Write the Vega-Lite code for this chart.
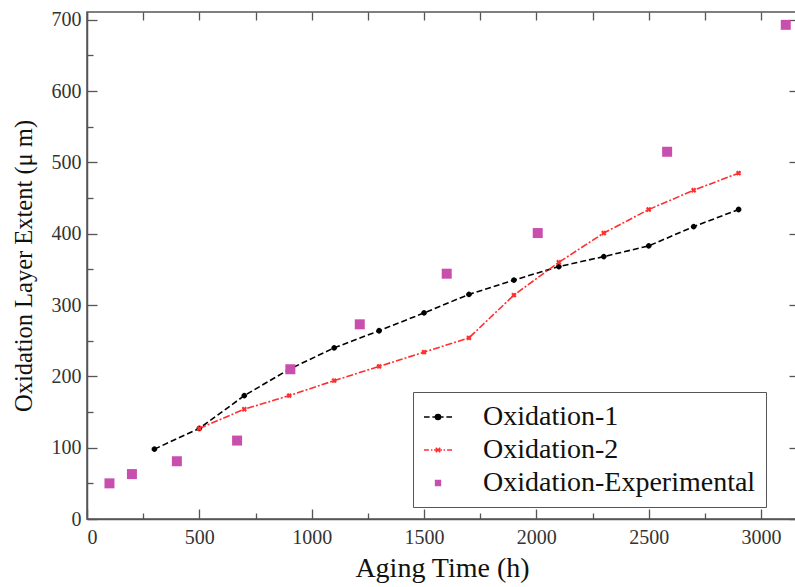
{
  "$schema": "https://vega.github.io/schema/vega-lite/v6.json",
  "autosize": {"type": "none"},
  "padding": {"left": 87, "top": 12, "right": 0, "bottom": 68},
  "width": 710,
  "height": 507,
  "background": "white",
  "config": {
    "font": "Liberation Serif",
    "view": {"stroke": "#555", "strokeWidth": 1.5},
    "axis": {
      "labelFont": "Liberation Serif",
      "titleFont": "Liberation Serif",
      "labelFontSize": 20,
      "titleFontSize": 28,
      "titleFontWeight": "normal",
      "labelColor": "#333",
      "titleColor": "#111",
      "domainColor": "#555",
      "domainWidth": 1.5,
      "tickColor": "#555",
      "tickWidth": 1.3,
      "grid": false
    },
    "legend": {"labelFont": "Liberation Serif"}
  },
  "data": {
    "values": [
      {"series": "Oxidation-1", "t": 300, "v": 98},
      {"series": "Oxidation-1", "t": 500, "v": 127},
      {"series": "Oxidation-1", "t": 700, "v": 173},
      {"series": "Oxidation-1", "t": 900, "v": 210},
      {"series": "Oxidation-1", "t": 1100, "v": 240},
      {"series": "Oxidation-1", "t": 1300, "v": 264},
      {"series": "Oxidation-1", "t": 1500, "v": 289},
      {"series": "Oxidation-1", "t": 1700, "v": 315},
      {"series": "Oxidation-1", "t": 1900, "v": 335},
      {"series": "Oxidation-1", "t": 2100, "v": 354},
      {"series": "Oxidation-1", "t": 2300, "v": 368},
      {"series": "Oxidation-1", "t": 2500, "v": 383},
      {"series": "Oxidation-1", "t": 2700, "v": 410},
      {"series": "Oxidation-1", "t": 2900, "v": 434},
      {"series": "Oxidation-2", "t": 500, "v": 127},
      {"series": "Oxidation-2", "t": 700, "v": 154},
      {"series": "Oxidation-2", "t": 900, "v": 173},
      {"series": "Oxidation-2", "t": 1100, "v": 194},
      {"series": "Oxidation-2", "t": 1300, "v": 214},
      {"series": "Oxidation-2", "t": 1500, "v": 234},
      {"series": "Oxidation-2", "t": 1700, "v": 254},
      {"series": "Oxidation-2", "t": 1900, "v": 314},
      {"series": "Oxidation-2", "t": 2100, "v": 360},
      {"series": "Oxidation-2", "t": 2300, "v": 401},
      {"series": "Oxidation-2", "t": 2500, "v": 434},
      {"series": "Oxidation-2", "t": 2700, "v": 461},
      {"series": "Oxidation-2", "t": 2900, "v": 485},
      {"series": "Oxidation-Experimental", "t": 100, "v": 50},
      {"series": "Oxidation-Experimental", "t": 200, "v": 63},
      {"series": "Oxidation-Experimental", "t": 400, "v": 81},
      {"series": "Oxidation-Experimental", "t": 668, "v": 110},
      {"series": "Oxidation-Experimental", "t": 905, "v": 210},
      {"series": "Oxidation-Experimental", "t": 1214, "v": 273},
      {"series": "Oxidation-Experimental", "t": 1601, "v": 344},
      {"series": "Oxidation-Experimental", "t": 2006, "v": 401},
      {"series": "Oxidation-Experimental", "t": 2582, "v": 515},
      {"series": "Oxidation-Experimental", "t": 3110, "v": 693}
    ]
  },
  "layer": [
    {
      "transform": [{"filter": "datum.series !== 'Oxidation-Experimental'"}],
      "mark": {"type": "line", "strokeWidth": 1.6},
      "encoding": {
        "x": {
          "field": "t", "type": "quantitative",
          "scale": {"domain": [0, 3160], "nice": false, "zero": false},
          "axis": {
            "orient": "bottom",
            "title": "Aging Time (h)",
            "values": [0, 250, 500, 750, 1000, 1250, 1500, 1750, 2000, 2250, 2500, 2750, 3000],
            "labelExpr": "datum.value % 500 === 0 ? datum.label : ''",
            "format": "d",
            "tickSize": {"condition": {"test": "datum.value % 500 === 0", "value": -10}, "value": -6},
            "labelPadding": 18,
            "titlePadding": 7
          }
        },
        "y": {
          "field": "v", "type": "quantitative",
          "scale": {"domain": [0, 711], "nice": false},
          "axis": {
            "orient": "left",
            "title": "Oxidation Layer Extent (μ m)",
            "titleFontSize": 24.5,
            "values": [0, 50, 100, 150, 200, 250, 300, 350, 400, 450, 500, 550, 600, 650, 700],
            "labelExpr": "datum.value % 100 === 0 ? datum.label : ''",
            "format": "d",
            "tickSize": {"condition": {"test": "datum.value % 100 === 0", "value": -10}, "value": -6},
            "labelPadding": 16,
            "titlePadding": 15
          }
        },
        "color": {
          "field": "series", "type": "nominal",
          "scale": {"domain": ["Oxidation-1", "Oxidation-2", "Oxidation-Experimental"], "range": ["#000000", "#ff2f2f", "#c84fae"]},
          "legend": {
            "title": null,
            "orient": "none",
            "legendX": 326,
            "legendY": 380,
            "padding": 10,
            "strokeColor": "#555",
            "fillColor": "white",
            "labelFontSize": 28,
            "labelColor": "#111",
            "labelOffset": 30,
            "labelLimit": 400,
            "rowPadding": 4,
            "symbolSize": 784,
            "encode": {
              "symbols": {
                "update": {
                  "shape": {"signal": "datum.value === 'Oxidation-1' ? 'M-1,0H-0.6M-0.4,0H-0.1M0.1,0H0.4M0.6,0H1M-0.18,0A0.18,0.18,0,1,0,0.18,0A0.18,0.18,0,1,0,-0.18,0Z' : datum.value === 'Oxidation-2' ? 'M-1,0H-0.65M-0.5,0H-0.4M-0.28,0H0.28M0.4,0H0.5M0.65,0H1M-0.16,-0.16L0.16,0.16M-0.16,0.16L0.16,-0.16' : 'M-0.17,-0.17H0.17V0.17H-0.17Z'"},
                  "fill": {"signal": "datum.value === 'Oxidation-1' ? '#000000' : datum.value === 'Oxidation-2' ? '#ff2f2f' : '#c84fae'"},
                  "stroke": {"signal": "datum.value === 'Oxidation-1' ? '#000000' : datum.value === 'Oxidation-2' ? '#ff2f2f' : '#c84fae'"},
                  "strokeWidth": {"value": 1.6},
                  "strokeDash": {"value": []},
                  "size": {"value": 784},
                  "opacity": {"value": 1},
                  "fillOpacity": {"value": 1}
                }
              }
            }
          }
        },
        "strokeDash": {
          "field": "series", "type": "nominal",
          "scale": {"domain": ["Oxidation-1", "Oxidation-2"], "range": [[6, 3], [7, 2, 2, 2]]},
          "legend": null
        }
      }
    },
    {
      "transform": [{"filter": "datum.series !== 'Oxidation-Experimental'"}],
      "mark": {"type": "point", "filled": true, "opacity": 1, "angle": 45},
      "encoding": {
        "x": {"field": "t", "type": "quantitative", "axis": {"orient": "top", "title": null, "labels": false, "domain": false, "values": [0, 250, 500, 750, 1000, 1250, 1500, 1750, 2000, 2250, 2500, 2750, 3000], "tickSize": -8}},
        "y": {"field": "v", "type": "quantitative", "axis": {"orient": "right", "title": null, "labels": false, "domain": false, "values": [0, 100, 200, 300, 400, 500, 600, 700], "tickSize": -8}},
        "color": {"field": "series", "type": "nominal", "legend": null},
        "shape": {
          "field": "series", "type": "nominal",
          "scale": {"domain": ["Oxidation-1", "Oxidation-2"], "range": ["circle", "cross"]},
          "legend": null
        },
        "size": {"value": 30}
      }
    },
    {
      "transform": [{"filter": "datum.series === 'Oxidation-Experimental'"}],
      "mark": {"type": "square", "filled": true, "opacity": 1, "size": 100},
      "encoding": {
        "x": {"field": "t", "type": "quantitative", "axis": null},
        "y": {"field": "v", "type": "quantitative", "axis": null},
        "color": {"field": "series", "type": "nominal", "legend": null}
      }
    }
  ],
  "resolve": {"axis": {"x": "independent", "y": "independent"}}
}
